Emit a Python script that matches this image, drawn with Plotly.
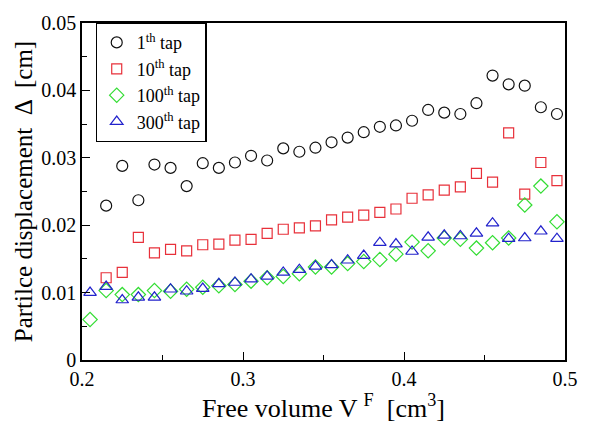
import plotly.graph_objects as go

# Free volume positions (cm^3)
x_first = [0.215, 0.225, 0.235, 0.245, 0.255, 0.265, 0.275, 0.285, 0.295, 0.305,
           0.315, 0.325, 0.335, 0.345, 0.355, 0.365, 0.375, 0.385, 0.395, 0.405,
           0.415, 0.425, 0.435, 0.445, 0.455, 0.465, 0.475, 0.485, 0.495]
x_full = [0.205] + x_first

# Particle displacement (cm) after each tap count
tap1 = [0.0229, 0.0288, 0.0237, 0.0290, 0.0285, 0.0258, 0.0292, 0.0285, 0.0293, 0.0303,
        0.0296, 0.0314, 0.0309, 0.0315, 0.0323, 0.0330, 0.0338, 0.0346, 0.0348, 0.0355,
        0.0371, 0.0367, 0.0365, 0.0381, 0.0422, 0.0409, 0.0407, 0.0375, 0.0365]
tap10 = [0.0122, 0.0130, 0.0182, 0.0159, 0.0164, 0.0162, 0.0171, 0.0172, 0.0178, 0.0179,
         0.0188, 0.0194, 0.0196, 0.0199, 0.0208, 0.0212, 0.0215, 0.0219, 0.0224, 0.0240,
         0.0245, 0.0252, 0.0257, 0.0277, 0.0264, 0.0337, 0.0246, 0.0293, 0.0266]
tap100 = [0.0060, 0.0103, 0.0097, 0.0097, 0.0103, 0.0102, 0.0105, 0.0108, 0.0110, 0.0112,
          0.0117, 0.0122, 0.0124, 0.0128, 0.0138, 0.0138, 0.0143, 0.0146, 0.0149, 0.0157,
          0.0175, 0.0162, 0.0181, 0.0179, 0.0166, 0.0174, 0.0181, 0.0230, 0.0258, 0.0205]
tap300 = [0.0100, 0.0109, 0.0089, 0.0093, 0.0093, 0.0105, 0.0102, 0.0106, 0.0113, 0.0115,
          0.0120, 0.0124, 0.0130, 0.0134, 0.0139, 0.0141, 0.0148, 0.0155, 0.0174, 0.0172,
          0.0161, 0.0182, 0.0185, 0.0184, 0.0188, 0.0203, 0.0180, 0.0181, 0.0191, 0.0180]

x_ticks = [0.2, 0.3, 0.4, 0.5]
y_ticks = [0, 0.01, 0.02, 0.03, 0.04, 0.05]
y_tick_text = ["0", "0.01", "0.02", "0.03", "0.04", "0.05"]

series = [
    ("1<sup>th</sup> tap", x_first, tap1, "circle-open", "#111111", 11),
    ("10<sup>th</sup> tap", x_first, tap10, "square-open", "#e8303a", 10),
    ("100<sup>th</sup> tap", x_full, tap100, "diamond-open", "#33dd33", 11),
    ("300<sup>th</sup> tap", x_full, tap300, "triangle-up-open", "#2222cc", 11),
]

serif = "Liberation Serif"

fig = go.Figure()
for name, xs, ys, sym, col, sz in series:
    fig.add_trace(go.Scatter(
        x=xs, y=ys, mode="markers", name=name,
        marker=dict(symbol=sym, size=sz, color=col, line=dict(color=col, width=1.2)),
    ))

axis_common = dict(
    showgrid=False, zeroline=False, showline=True, linecolor="black", linewidth=1.5,
    mirror=True, ticks="inside", ticklen=8, tickwidth=1.2, tickcolor="black",
    tickfont=dict(family=serif, size=20, color="black"),
)

fig.update_xaxes(
    range=[0.2, 0.5], tickvals=x_ticks, ticktext=["0.2", "0.3", "0.4", "0.5"],
    minor=dict(tickvals=[0.25, 0.35, 0.45], ticks="inside", ticklen=5, tickcolor="black", tickwidth=1),
    title=dict(text="Free volume V <sup>F</sup>  [cm<sup>3</sup>]",
               font=dict(family=serif, size=26, color="black"), standoff=4),
    **axis_common,
)
fig.update_yaxes(
    range=[0, 0.05], tickvals=y_ticks, ticktext=y_tick_text,
    minor=dict(tickvals=[0.005, 0.015, 0.025, 0.035, 0.045], ticks="inside", ticklen=5,
               tickcolor="black", tickwidth=1),
    title=dict(text="Partilce displacement  Δ  [cm]",
               font=dict(family=serif, size=25, color="black"), standoff=2),
    **axis_common,
)

fig.update_layout(
    width=590, height=424,
    margin=dict(l=82, r=13, t=16, b=62),
    paper_bgcolor="white", plot_bgcolor="white",
    showlegend=True,
    legend=dict(
        x=0.028, y=1.0, xanchor="left", yanchor="top",
        bordercolor="black", borderwidth=1.2, bgcolor="white",
        font=dict(family=serif, size=18, color="black"),
        itemsizing="trace", itemwidth=30, tracegroupgap=0,
    ),
)

fig.write_html("out.html")
